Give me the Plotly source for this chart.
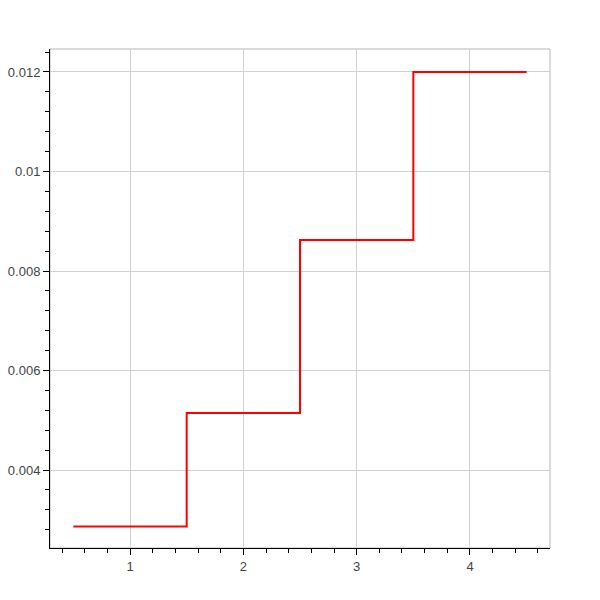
import plotly.graph_objects as go

categories = [1, 2, 3, 4]
values = [0.002866, 0.005145, 0.008622, 0.0120]
x_ticks = [1, 2, 3, 4]
x_tick_labels = ["1", "2", "3", "4"]
y_ticks = [0.004, 0.006, 0.008, 0.010, 0.012]
y_tick_labels = ["0.004", "0.006", "0.008", "0.01", "0.012"]

# step edges centered on each category
x_edges = [c - 0.5 for c in categories] + [categories[-1] + 0.5]
y_steps = values + [values[-1]]

fig = go.Figure()
fig.add_trace(go.Scatter(
    x=x_edges, y=y_steps, mode="lines",
    line=dict(color="red", width=2, shape="hv"),
    showlegend=False, hoverinfo="skip",
))

fig.add_shape(type="rect", xref="paper", yref="paper", x0=0, y0=0, x1=1, y1=1,
              line=dict(color="#b5b5b5", width=1), layer="below")

axis_common = dict(
    showgrid=True, gridcolor="#d0d0d0", gridwidth=1,
    zeroline=False, showline=True, linecolor="black", linewidth=1,
    ticks="outside", ticklen=6, tickcolor="black", tickwidth=1,
    automargin=False,
    tickfont=dict(family="Liberation Sans, Arial, sans-serif", size=13, color="#444444"),
)

fig.update_xaxes(
    range=[0.294, 4.706], tickmode="array", tickvals=x_ticks, ticktext=x_tick_labels,
    minor=dict(dtick=0.2, tick0=0, ticks="outside", ticklen=4, tickcolor="black", showgrid=False),
    **axis_common,
)
fig.update_yaxes(
    range=[0.002434, 0.012462], tickmode="array", tickvals=y_ticks, ticktext=y_tick_labels,
    minor=dict(dtick=0.0004, tick0=0, ticks="outside", ticklen=4, tickcolor="black", showgrid=False),
    **axis_common,
)

fig.update_layout(
    width=592, height=592,
    margin=dict(l=42, r=50, t=41, b=52),
    plot_bgcolor="white", paper_bgcolor="white",
)

fig.write_html("out.html")
